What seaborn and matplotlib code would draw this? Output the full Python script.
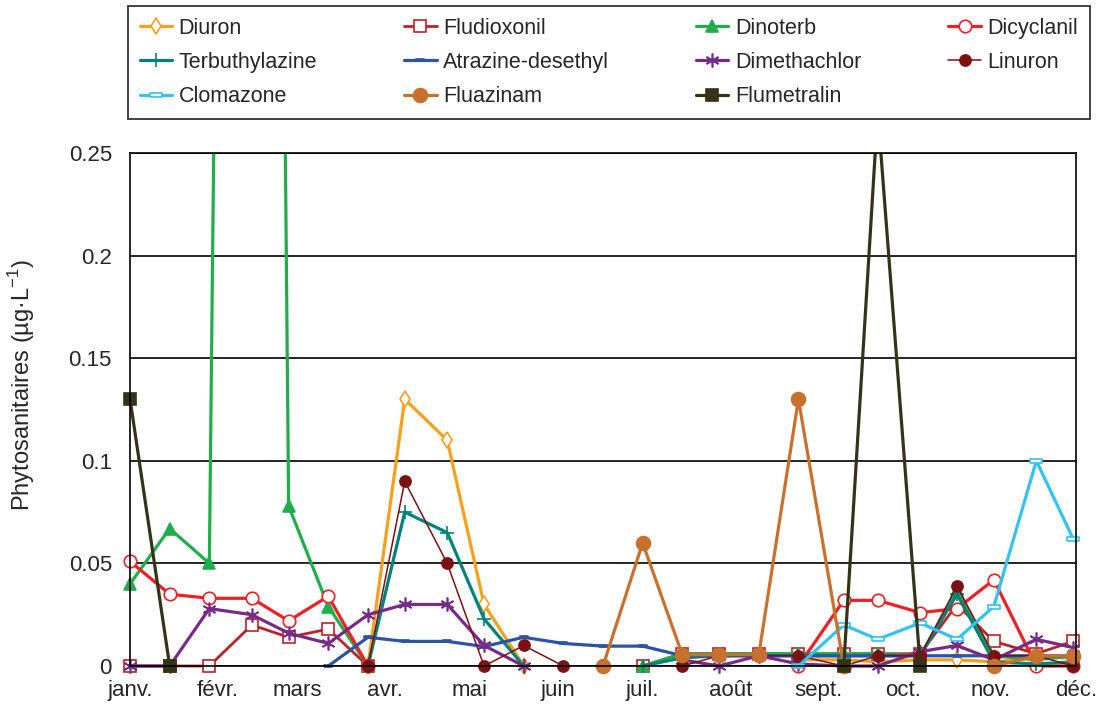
import matplotlib
matplotlib.use('Agg')
import numpy as np
import pandas as pd
import seaborn as sns
import matplotlib.pyplot as plt
from matplotlib.patches import Rectangle

nan = np.nan

# sampling dates (roughly every two weeks)
dates = pd.to_datetime(['2013-01-01', '2013-01-15', '2013-01-29', '2013-02-13', '2013-02-26',
                        '2013-03-12', '2013-03-26', '2013-04-08', '2013-04-23', '2013-05-06',
                        '2013-05-20', '2013-06-03', '2013-06-17', '2013-07-01', '2013-07-15',
                        '2013-07-28', '2013-08-11', '2013-08-25', '2013-09-10', '2013-09-22',
                        '2013-10-07', '2013-10-20', '2013-11-02', '2013-11-17', '2013-11-30'])
month_starts = pd.date_range('2013-01-01', '2013-12-01', freq='MS')
month_labels = ['janv.', 'févr.', 'mars', 'avr.', 'mai', 'juin',
                'juil.', 'août', 'sept.', 'oct.', 'nov.', 'déc.']

diuron = [nan, nan, nan, nan, nan, nan, 0, 0.13, 0.11, 0.030, 0, nan, nan, nan, nan,
          nan, nan, 0.003, 0.003, 0.002, 0.003, 0.003, 0.002, 0.004, 0.004]
fludioxonil = [0, 0, 0, 0.020, 0.014, 0.018, 0, nan, nan, nan, nan, nan, nan, 0, 0.006,
               0.006, 0.006, 0.006, 0.006, 0.006, 0.006, 0.030, 0.012, 0.006, 0.012]
dinoterb = [0.040, 0.067, 0.050, 2.0, 0.078, 0.029, 0, nan, nan, nan, nan, nan, nan, 0, 0.006,
            0.006, 0.006, 0.006, 0.006, 0.006, 0.005, 0.037, 0.005, 0.003, 0.005]
dicyclanil = [0.051, 0.035, 0.033, 0.033, 0.022, 0.034, 0, nan, nan, nan, nan, nan, nan, nan, nan,
              nan, nan, 0, 0.032, 0.032, 0.026, 0.028, 0.042, 0, 0]
terbuthylazine = [nan, nan, nan, nan, nan, nan, 0, 0.075, 0.065, 0.023, 0, nan, nan, 0, 0.004,
                  0.005, 0.005, 0.005, 0.005, 0.005, 0.005, 0.035, 0.002, 0.001, 0.002]
atrazine_desethyl = [nan, nan, nan, nan, nan, 0, 0.014, 0.012, 0.012, 0.0095, 0.014, 0.011, 0.0097,
                     0.0097, 0.005, 0.005, 0.005, 0.005, 0.005, 0.005, 0.005, 0.005, 0.005, 0.005, 0.005]
dimethachlor = [0, 0, 0.028, 0.025, 0.016, 0.011, 0.025, 0.030, 0.030, 0.010, 0, nan, nan, nan, 0.003,
                0, 0.005, 0.001, 0, 0, 0.007, 0.010, 0.003, 0.013, 0.009]
linuron = [nan, nan, nan, nan, nan, nan, 0, 0.090, 0.050, 0, 0.010, 0, nan, nan, 0,
           0.005, 0.005, 0.005, 0, 0.005, 0.005, 0.039, 0.005, 0.005, 0]
clomazone = [nan, nan, nan, nan, nan, nan, nan, nan, nan, nan, nan, nan, nan, nan, nan,
             nan, nan, 0, 0.020, 0.013, 0.021, 0.013, 0.029, 0.100, 0.062]
fluazinam = [nan, nan, nan, nan, nan, nan, nan, nan, nan, nan, nan, nan, 0, 0.060, 0.0055,
             0.0055, 0.0055, 0.130, 0, nan, nan, nan, 0, 0.005, 0.005]
flumetralin = [0.13, 0, nan, nan, nan, nan, nan, nan, nan, nan, nan, nan, nan, nan, nan,
               nan, nan, nan, 0, 0.27, 0, nan, nan, nan, nan]

dash = [(-1, -0.35), (1, -0.35), (1, 0.35), (-1, 0.35), (-1, -0.35)]

# name, values, colour, marker, size, open marker, linewidth
series = [
    ('Diuron', diuron, '#F7A01E', 'd', 8, True, 2.3),
    ('Fludioxonil', fludioxonil, '#B8222A', 's', 8, True, 2.0),
    ('Dinoterb', dinoterb, '#22AD4C', '^', 9, False, 2.3),
    ('Dicyclanil', dicyclanil, '#EE2026', 'o', 9, True, 2.3),
    ('Terbuthylazine', terbuthylazine, '#00827A', '+', 10, False, 2.3),
    ('Atrazine-desethyl', atrazine_desethyl, '#2E52A4', dash, 6, False, 2.3),
    ('Dimethachlor', dimethachlor, '#762C87', (6, 2, 0), 10, False, 2.3),
    ('Linuron', linuron, '#7A1114', 'o', 8, False, 1.1),
    ('Clomazone', clomazone, '#34C2F0', dash, 9, True, 2.3),
    ('Fluazinam', fluazinam, '#C8702E', 'o', 10, False, 2.3),
    ('Flumetralin', flumetralin, '#33331A', 's', 9, False, 2.3),
]

sns.set_style('white')
plt.rcParams['font.family'] = ['Liberation Sans', 'DejaVu Sans']
plt.rcParams['mathtext.fontset'] = 'custom'
plt.rcParams['mathtext.rm'] = 'Liberation Sans'

fig = plt.figure(figsize=(11.03, 7.18), dpi=100)
ax = fig.add_axes([0.1179, 0.0724, 0.8576, 0.7145])

clip = Rectangle((-0.02, -0.04), 1.04, 1.04, transform=ax.transAxes)

for name, vals, color, marker, ms, hollow, lw in series:
    df = pd.DataFrame({'date': dates, 'value': vals})
    df['seg'] = df['value'].isna().cumsum()
    df = df.dropna()
    first = True
    for _, seg in df.groupby('seg'):
        sns.lineplot(data=seg, x='date', y='value', ax=ax, color=color, linewidth=lw,
                     marker=marker, markersize=ms,
                     markerfacecolor='white' if hollow else color,
                     markeredgecolor=color, markeredgewidth=1.2,
                     label=name if first else None)
        first = False

for line in ax.get_lines():
    line.set_clip_path(clip)

ax.set_ylim(0, 0.25)
ax.set_yticks([0, 0.05, 0.1, 0.15, 0.2, 0.25])
ax.set_yticklabels(['0', '0.05', '0.1', '0.15', '0.2', '0.25'])
ax.set_xlim(month_starts[0], month_starts[-1])
ax.set_xticks(month_starts)
ax.set_xticklabels(month_labels)
ax.tick_params(axis='both', labelsize=16, color='black', direction='out', width=1.1)
ax.tick_params(axis='x', length=4, pad=6)
ax.tick_params(axis='y', length=5, pad=8)
ax.grid(axis='y', color='black', linewidth=1.2)
ax.set_axisbelow(True)
for sp in ax.spines.values():
    sp.set_color('black')
    sp.set_linewidth(1.2)
ax.set_xlabel('')
ax.set_ylabel('Phytosanitaires (µg·L$^{-1}$)', fontsize=17)
ax.yaxis.set_label_coords(-0.098, 0.548)

handles, labels = ax.get_legend_handles_labels()
if ax.get_legend() is not None:
    ax.get_legend().remove()
# legend fills column by column: reorder so it reads row by row
order = [0, 4, 8, 1, 5, 9, 2, 6, 10, 3, 7]
leg = fig.legend([handles[i] for i in order], [labels[i] for i in order], ncols=4,
                 loc='upper left', mode='expand',
                 bbox_to_anchor=(0.116, 0.837, 0.872, 0.155), borderaxespad=0,
                 fontsize=15.5, handlelength=1.5, handletextpad=0.3, labelspacing=0.62,
                 frameon=True, fancybox=False, edgecolor='black', borderpad=0.55)
leg.get_frame().set_linewidth(1.3)

fig.savefig('out.png', dpi=100, facecolor='white')
